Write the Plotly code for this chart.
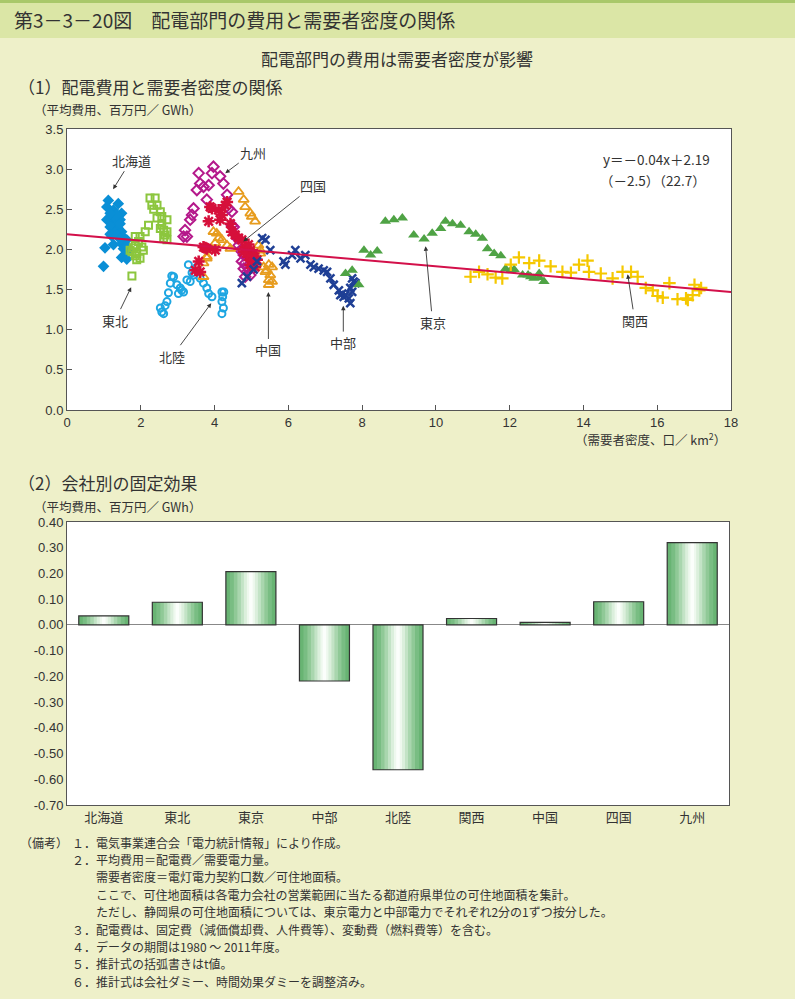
import plotly.graph_objects as go

# ---------------- data ----------------
HOKKAIDO_X = [1.12,1.39,1.08,1.26,1.48,1.08,1.30,1.44,1.17,1.39,1.48,1.17,1.30,1.53,1.62,1.03,1.26,1.48,1.53,1.62,1.48,1.62,0.99,1.21,1.26,1.35,1.17,1.44,1.62,1.71,1.35,1.44]
HOKKAIDO_Y = [2.61,2.57,2.53,2.49,2.45,2.37,2.35,2.37,2.28,2.26,2.22,2.19,2.21,2.15,2.12,2.02,2.06,2.07,2.01,1.97,1.90,1.88,1.79,2.17,2.41,2.43,2.45,2.32,2.04,2.00,2.18,2.13]

TOHOKU_X = [2.25,2.39,2.30,2.44,2.53,2.57,2.71,2.57,2.71,2.62,2.71,2.62,2.21,2.12,1.98,1.85,1.94,2.03,1.85,1.76,1.89,2.07,1.98,1.89,1.76,2.53,2.44,1.85,1.71,2.35,2.66,1.80]
TOHOKU_Y = [2.64,2.64,2.55,2.55,2.47,2.41,2.37,2.30,2.22,2.24,2.12,2.14,2.30,2.22,2.16,2.16,2.10,2.03,2.05,1.97,1.95,1.99,1.89,1.87,1.67,2.26,2.39,1.92,1.99,2.50,2.18,2.02]

HOKURIKU_X = [3.29,3.52,3.43,2.84,2.89,3.25,3.34,2.98,3.11,2.75,3.02,3.16,2.53,2.57,2.62,2.71,3.61,3.70,3.79,3.84,3.93,4.20,4.25,4.20,4.24,4.20,3.39,2.80,2.66,3.07,4.22]
HOKURIKU_Y = [1.81,1.78,1.68,1.67,1.66,1.62,1.60,1.56,1.49,1.46,1.45,1.47,1.27,1.22,1.20,1.35,1.64,1.58,1.52,1.45,1.41,1.47,1.47,1.35,1.27,1.20,1.71,1.58,1.30,1.52,1.41]

KYUSHU_X = [3.57,3.97,3.93,4.15,4.24,3.61,3.70,3.84,3.52,3.79,4.34,4.38,4.47,3.43,3.39,3.34,3.20,3.25,3.16,4.52,4.47,4.61,4.65,4.70,4.79,4.74,4.83,4.88,4.79,4.88,4.97,4.83]
KYUSHU_Y = [2.95,3.03,2.95,2.91,2.82,2.82,2.78,2.80,2.74,2.62,2.68,2.51,2.47,2.51,2.43,2.37,2.24,2.16,2.16,2.28,2.30,2.14,2.05,1.99,1.93,1.85,1.83,1.78,1.76,1.72,1.68,1.66]

SHIKOKU_X = [3.93,3.84,4.11,4.15,4.20,3.70,3.79,3.57,3.48,3.61,4.02,3.88,4.29,4.34,4.43,4.47,4.56,4.65,4.74,4.83,4.97,5.06,4.92,5.01,4.97,5.10,5.15,4.79,4.88,3.75,4.92,5.04]
SHIKOKU_Y = [2.51,2.35,2.49,2.37,2.43,2.03,2.01,1.85,1.74,1.72,1.99,2.53,2.55,2.59,2.32,2.22,2.18,2.14,2.12,2.03,1.99,1.95,1.91,1.87,1.81,1.78,1.87,1.97,1.95,2.02,2.06,1.92]

CHUGOKU_X = [4.65,4.79,4.83,4.97,5.01,5.10,5.19,5.24,3.97,4.11,4.20,4.34,4.43,4.02,3.88,3.79,3.70,5.24,5.33,5.42,5.51,5.47,5.56,5.47,5.38,5.56,5.47,4.06,3.79,3.70]
CHUGOKU_Y = [2.72,2.62,2.53,2.45,2.41,2.35,2.05,1.99,2.22,2.14,2.12,2.05,2.01,2.08,1.99,1.89,1.66,1.95,1.78,1.74,1.68,1.62,1.60,1.56,1.72,1.78,1.81,2.20,1.91,1.83]

CHUBU_X = [6.19,6.10,6.33,6.46,5.87,5.92,6.60,6.69,6.82,6.96,7.05,7.14,7.23,7.37,7.46,7.55,7.64,7.68,7.50,7.41,7.68,7.73,7.77,7.73,7.82,4.74,4.88,5.06,5.29,5.38,5.51,5.15]
CHUBU_Y = [1.99,1.93,1.89,1.93,1.85,1.81,1.81,1.78,1.76,1.74,1.72,1.64,1.56,1.49,1.45,1.43,1.39,1.33,1.41,1.43,1.52,1.64,1.60,1.47,1.58,1.58,1.66,1.75,2.14,2.12,1.99,1.85]

TOKYO_X = [8.63,8.86,9.09,8.05,8.23,8.41,7.55,7.73,7.91,9.40,9.68,9.90,10.13,10.26,10.45,10.67,10.90,11.08,11.26,11.40,11.58,11.76,11.89,12.12,12.35,12.57,12.80,12.66,12.93,12.03,12.50,12.80]
TOKYO_Y = [2.35,2.37,2.39,1.99,1.93,1.98,1.70,1.74,1.56,2.18,2.13,2.20,2.26,2.35,2.32,2.30,2.22,2.19,2.14,2.01,1.95,1.92,1.76,1.75,1.68,1.66,1.70,1.64,1.60,1.74,1.68,1.65]

KANSAI_X = [10.94,11.17,11.40,11.62,11.80,12.03,12.25,12.53,12.80,13.11,13.43,13.66,13.88,14.11,14.15,14.47,14.79,15.06,15.29,15.47,15.69,15.88,16.01,16.15,16.33,16.55,16.78,16.83,16.96,17.01,17.14,17.19]
KANSAI_Y = [1.66,1.72,1.69,1.65,1.64,1.81,1.90,1.83,1.86,1.79,1.72,1.71,1.81,1.86,1.72,1.70,1.64,1.72,1.72,1.66,1.52,1.49,1.42,1.40,1.58,1.38,1.39,1.37,1.43,1.56,1.49,1.52]

REG_SLOPE = -0.04
REG_INTERCEPT = 2.19
REG_X = [0, 18]

SCATTER_X_TICKS = [0, 2, 4, 6, 8, 10, 12, 14, 16, 18]
SCATTER_Y_TICKS = [0.0, 0.5, 1.0, 1.5, 2.0, 2.5, 3.0, 3.5]

COMPANIES = ["北海道", "東北", "東京", "中部", "北陸", "関西", "中国", "四国", "九州"]
FIXED_EFFECTS = [0.035, 0.088, 0.207, -0.218, -0.563, 0.025, 0.010, 0.090, 0.320]
BAR_Y_TICKS = [0.40, 0.30, 0.20, 0.10, 0.00, -0.10, -0.20, -0.30, -0.40, -0.50, -0.60, -0.70]
BAR_Y_TICKTEXT = ["0.40", "0.30", "0.20", "0.10", "0.00", "-0.10", "-0.20", "-0.30", "-0.40", "-0.50", "-0.60", "-0.70"]

NOTES_LEAD = "（備考）"
NOTES = [
    "１．電気事業連合会「電力統計情報」により作成。",
    "２．平均費用＝配電費／需要電力量。",
    "　　需要者密度＝電灯電力契約口数／可住地面積。",
    "　　ここで、可住地面積は各電力会社の営業範囲に当たる都道府県単位の可住地面積を集計。",
    "　　ただし、静岡県の可住地面積については、東京電力と中部電力でそれぞれ2分の1ずつ按分した。",
    "３．配電費は、固定費（減価償却費、人件費等）、変動費（燃料費等）を含む。",
    "４．データの期間は1980 ～ 2011年度。",
    "５．推計式の括弧書きはt値。",
    "６．推計式は会社ダミー、時間効果ダミーを調整済み。",
]

# ---------------- figure ----------------
W, H = 795, 999
FONT = "Noto Sans CJK JP"
TXT = "#333333"


def px(x):
    return x / W


def py(y):
    return 1 - y / H


fig = go.Figure()

series = [
    ("北海道", HOKKAIDO_X, HOKKAIDO_Y, "diamond", "#0a8fd6", 9, 0),
    ("東北", TOHOKU_X, TOHOKU_Y, "square-open", "#8cc63e", 7, 2),
    ("北陸", HOKURIKU_X, HOKURIKU_Y, "circle-open", "#1ea6e2", 7, 2),
    ("九州", KYUSHU_X, KYUSHU_Y, "diamond-open", "#b5198b", 8, 2),
    ("中国", CHUGOKU_X, CHUGOKU_Y, "triangle-up-open", "#e79c1e", 9, 1.8),
    ("四国", SHIKOKU_X, SHIKOKU_Y, "asterisk-open", "#d6103b", 10, 2.5),
    ("中部", CHUBU_X, CHUBU_Y, "x-thin-open", "#1f3f95", 8, 2.5),
    ("東京", TOKYO_X, TOKYO_Y, "triangle-up", "#4fa345", 10, 0),
    ("関西", KANSAI_X, KANSAI_Y, "cross-thin-open", "#f5c800", 9, 2.2),
]
for name, xs, ys, sym, col, size, lw in series:
    marker = dict(symbol=sym, size=size, color=col)
    if lw:
        marker["line"] = dict(color=col, width=lw)
    else:
        marker["line"] = dict(width=0)
    fig.add_trace(go.Scatter(x=xs, y=ys, mode="markers", name=name, marker=marker,
                             xaxis="x", yaxis="y", showlegend=False, hoverinfo="skip"))

fig.add_trace(go.Scatter(x=REG_X, y=[REG_INTERCEPT + REG_SLOPE * v for v in REG_X],
                         mode="lines", line=dict(color="#d3104a", width=2),
                         xaxis="x", yaxis="y", showlegend=False, hoverinfo="skip"))

# ---- bars with simulated horizontal gradient ----
BAR_W = 0.68
grad_steps = [
    (1.00, "#68b473"),
    (0.84, "#79bd83"),
    (0.68, "#90c997"),
    (0.54, "#a9d6ae"),
    (0.40, "#c3e3c6"),
    (0.28, "#dbefdc"),
    (0.16, "#eef8ee"),
    (0.07, "#fbfefb"),
]
for frac, col in grad_steps:
    fig.add_trace(go.Bar(x=COMPANIES, y=FIXED_EFFECTS, width=BAR_W * frac,
                         marker=dict(color=col, line=dict(width=0)),
                         xaxis="x2", yaxis="y2", showlegend=False, hoverinfo="skip"))
fig.add_trace(go.Bar(x=COMPANIES, y=FIXED_EFFECTS, width=BAR_W,
                     marker=dict(color="rgba(0,0,0,0)", line=dict(color="#333333", width=1.2)),
                     xaxis="x2", yaxis="y2", showlegend=False, hoverinfo="skip"))

tickfont = dict(family="Liberation Sans", size=13, color=TXT)

fig.update_layout(
    width=W, height=H,
    autosize=False,
    margin=dict(l=0, r=0, t=0, b=0, pad=0),
    paper_bgcolor="#eef0c9",
    plot_bgcolor="white",
    barmode="overlay",
    showlegend=False,
    hovermode=False,
    font=dict(family=FONT, color=TXT),
    xaxis=dict(domain=[px(67), px(731)], range=[0, 18], tickvals=SCATTER_X_TICKS,
               ticks="inside", ticklen=5, tickcolor="#555", showgrid=False, zeroline=False,
               showline=True, linecolor="#555", linewidth=1, mirror=True,
               tickfont=tickfont, anchor="y", automargin=False),
    yaxis=dict(domain=[py(410), py(129)], range=[0, 3.5], tickvals=SCATTER_Y_TICKS,
               tickformat=".1f", ticks="inside", ticklen=5, tickcolor="#555",
               showgrid=False, zeroline=False, showline=True, linecolor="#555", linewidth=1,
               mirror=True, tickfont=tickfont, anchor="x", automargin=False),
    xaxis2=dict(domain=[px(67), px(729)], range=[-0.5, 8.5], type="category",
                categoryorder="array", categoryarray=COMPANIES,
                ticks="", showgrid=False, zeroline=False, showline=True, linecolor="#555",
                linewidth=1, mirror=True, anchor="y2", automargin=False,
                tickfont=dict(family=FONT, size=13, color=TXT)),
    yaxis2=dict(domain=[py(805), py(522)], range=[-0.70, 0.40], tickvals=BAR_Y_TICKS,
                ticktext=BAR_Y_TICKTEXT, ticks="", showgrid=False, zeroline=True,
                zerolinecolor="#888", zerolinewidth=1, showline=True, linecolor="#555",
                linewidth=1, mirror=True, tickfont=tickfont, anchor="x2", automargin=False),
)

shapes = [
    dict(type="rect", xref="paper", yref="paper", x0=0, x1=1, y0=py(38), y1=py(3),
         fillcolor="#dbe6a6", line=dict(width=0), layer="below"),
    dict(type="rect", xref="paper", yref="paper", x0=0, x1=1, y0=py(3), y1=1,
         fillcolor="#a9c86a", line=dict(width=0), layer="below"),
]
fig.update_layout(shapes=shapes)

ann = []


def text(x, y, s, size, anchor="left", family=FONT, color=TXT, yanchor="middle"):
    ann.append(dict(xref="paper", yref="paper", x=px(x), y=py(y), text=s, showarrow=False,
                    xanchor=anchor, yanchor=yanchor, align="left",
                    font=dict(family=family, size=size, color=color)))


text(12, 20, "第3－3－20図　配電部門の費用と需要者密度の関係", 19)
text(397, 58, "配電部門の費用は需要者密度が影響", 17, anchor="center")
text(16, 86, "（1）配電費用と需要者密度の関係", 17)
text(32, 110, "（平均費用、百万円／ GWh）", 12.5)
text(728, 439, "（需要者密度、口／ km<sup>2</sup>）", 12.5, anchor="right")
text(16, 482, "（2）会社別の固定効果", 17)
text(32, 506, "（平均費用、百万円／ GWh）", 12.5)
text(712, 159, "y＝－0.04x＋2.19", 13.5, anchor="right")
text(708, 180, "（－2.5）（22.7）", 13.5, anchor="right")

text(18, 842, NOTES_LEAD, 12)
for i, line in enumerate(NOTES):
    text(70, 842 + i * 17.4, line, 12)

labels = [
    ("北海道", 1.25, 2.75, 18, -29),
    ("九州", 4.29, 2.95, 28, -21),
    ("四国", 4.78, 2.10, 70, -56),
    ("東北", 1.74, 1.53, -16, 33),
    ("北陸", 3.91, 1.33, -39, 53),
    ("中国", 5.46, 1.47, 0, 58),
    ("中部", 7.49, 1.30, 0, 37),
    ("東京", 9.72, 2.04, 7, 76),
    ("関西", 15.2, 1.69, 7, 46),
]
for s, x, y, ax, ay in labels:
    ann.append(dict(xref="x", yref="y", x=x, y=y, ax=ax, ay=ay, text=s, showarrow=True,
                    arrowhead=2, arrowsize=1, arrowwidth=0.9, arrowcolor="#333",
                    font=dict(family=FONT, size=13, color=TXT)))

fig.update_layout(annotations=ann)

fig.write_html(
    "out.html",
    config={"displayModeBar": False},
    post_script="document.body.style.margin='0';document.body.style.overflow='hidden';",
)
